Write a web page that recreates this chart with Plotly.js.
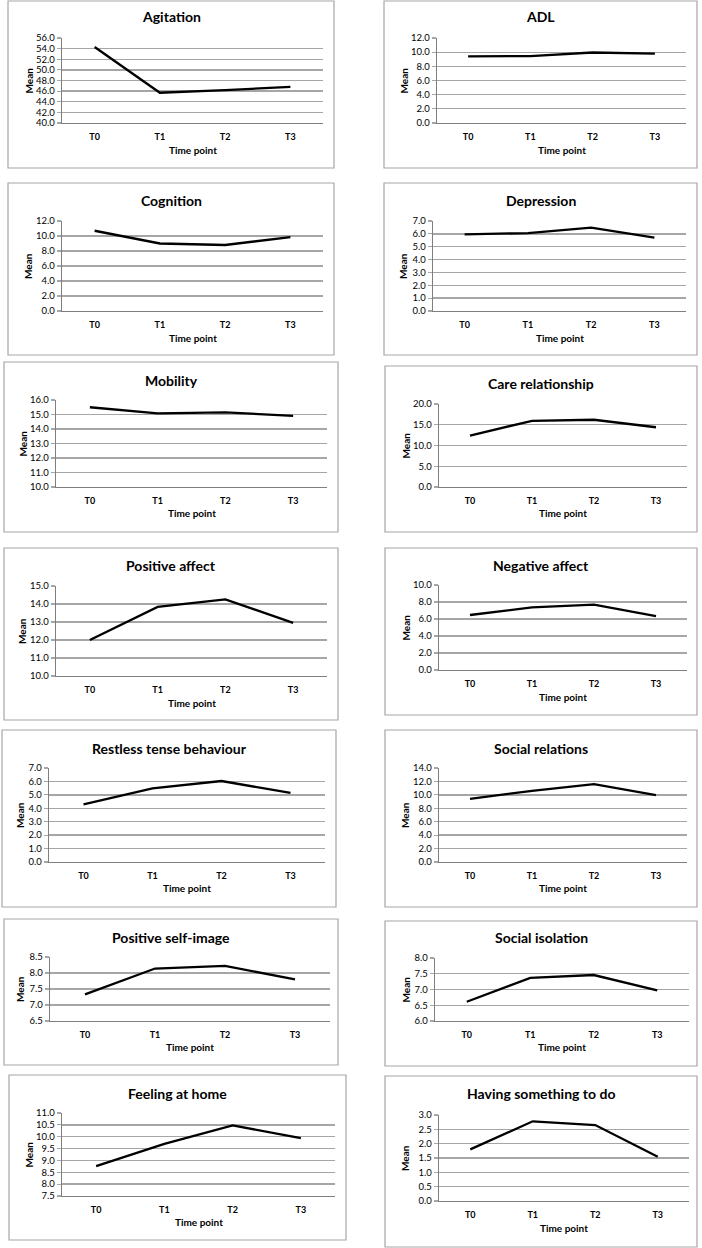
<!DOCTYPE html>
<html>
<head>
<meta charset="utf-8">
<script src="https://cdn.plot.ly/plotly-3.0.1.min.js"></script>
<style>
html,body{margin:0;padding:0;background:#fff;}
#chart{width:702px;height:1248px;}
</style>
</head>
<body>
<div id="chart"></div>
<script>
// ---------- DATA ----------
const timePoints = ['T0', 'T1', 'T2', 'T3'];
const panelTitles = ['Agitation', 'ADL', 'Cognition', 'Depression', 'Mobility', 'Care relationship',
  'Positive affect', 'Negative affect', 'Restless tense behaviour', 'Social relations',
  'Positive self-image', 'Social isolation', 'Feeling at home', 'Having something to do'];
const agitation = [54.3, 45.7, 46.2, 46.8];
const adl = [9.4, 9.45, 9.95, 9.8];
const cognition = [10.7, 9.0, 8.8, 9.85];
const depression = [5.96, 6.06, 6.48, 5.7];
const mobility = [15.5, 15.08, 15.15, 14.9];
const careRelationship = [12.4, 15.95, 16.2, 14.4];
const positiveAffect = [12.0, 13.84, 14.26, 12.95];
const negativeAffect = [6.47, 7.37, 7.69, 6.35];
const restlessTense = [4.3, 5.49, 6.03, 5.14];
const socialRelations = [9.4, 10.6, 11.6, 9.97];
const positiveSelfImage = [7.33, 8.14, 8.22, 7.8];
const socialIsolation = [6.61, 7.37, 7.46, 6.97];
const feelingAtHome = [8.76, 9.7, 10.48, 9.94];
const havingSomethingToDo = [1.8, 2.78, 2.65, 1.54];
const seriesList = [agitation, adl, cognition, depression, mobility, careRelationship,
  positiveAffect, negativeAffect, restlessTense, socialRelations,
  positiveSelfImage, socialIsolation, feelingAtHome, havingSomethingToDo];
// y axis ranges [min, max, step]
const yMin = [40, 0, 0, 0, 10, 0, 10, 0, 0, 0, 6.5, 6.0, 7.5, 0];
const yMax = [56, 12, 12, 7, 16, 20, 15, 10, 7, 14, 8.5, 8.0, 11.0, 3.0];
const yStep = [2, 2, 2, 1, 1, 5, 1, 2, 1, 2, 0.5, 0.5, 0.5, 0.5];
const xAxisTitle = 'Time point';
const yAxisTitle = 'Mean';

// ---------- LAYOUT GEOMETRY (pixels) ----------
const W = 702, H = 1248;
// panel box [x0, y0, x1, y1]
const boxes = [
  [8, 1, 334, 168], [384, 1, 697, 168],
  [8, 183, 334, 355], [384, 183, 697, 355],
  [4, 362, 338, 532], [385, 366, 697, 532],
  [4, 548, 338, 720], [385, 548, 697, 715],
  [2, 730, 336, 907], [385, 730, 697, 907],
  [4, 919, 338, 1065], [385, 921, 697, 1066],
  [9, 1075, 346, 1240], [385, 1076, 697, 1247]
];
// plot area [x0, y0(top), x1, y1(bottom)]
const plots = [
  [62, 38, 323, 123], [437, 38, 686, 123],
  [62, 221, 323, 311], [433, 221, 686, 311],
  [56, 400, 327, 487], [439, 404, 687, 487],
  [56, 586, 327, 676], [439, 585, 687, 670],
  [49, 768, 325, 862], [439, 768, 687, 862],
  [50, 957, 330, 1021], [435, 958, 689, 1021],
  [62, 1113, 335, 1196], [439, 1115, 689, 1201]
];
const titleY = [17, 17, 201, 201, 380, 383, 565, 565, 748, 748, 937, 937, 1093, 1093];
const xTitleY = [150, 150, 338, 338, 513, 513, 703, 697, 888, 888, 1047, 1047, 1222, 1228];
const meanOffset = [34, 34, 34, 30, 34, 34, 34, 34, 29, 34, 30, 30, 34, 34];

const px = v => v / W;
const py = v => 1 - v / H;

const traces = [];
const layout = {
  width: W, height: H,
  margin: {l: 0, r: 0, t: 0, b: 0},
  paper_bgcolor: '#ffffff',
  plot_bgcolor: 'rgba(0,0,0,0)',
  showlegend: false,
  shapes: [],
  annotations: [],
  font: {family: 'Lato, "Open Sans", sans-serif', color: '#000'}
};

const tickFont = {family: 'Lato, sans-serif', size: 9.5, color: '#000'};
const boldFont = (s) => ({family: 'Lato, sans-serif', size: s, color: '#000', weight: 'bold'});

seriesList.forEach((vals, i) => {
  const n = i + 1;
  const xs = n === 1 ? 'x' : 'x' + n;
  const ys = n === 1 ? 'y' : 'y' + n;
  traces.push({
    type: 'scatter', mode: 'lines',
    x: timePoints, y: vals,
    xaxis: xs, yaxis: ys,
    line: {color: '#000000', width: 2.3},
    hoverinfo: 'x+y'
  });
  const p = plots[i];
  layout['xaxis' + (n === 1 ? '' : n)] = {
    domain: [px(p[0]), px(p[2])],
    anchor: ys,
    type: 'category',
    categoryorder: 'array', categoryarray: timePoints,
    range: [-0.5, 3.5],
    showgrid: false, zeroline: false,
    showline: true, linecolor: '#7f7f7f', linewidth: 1.3,
    ticks: '', ticklabelstandoff: 5,
    tickfont: {family: 'Lato, sans-serif', size: 9, color: '#000', weight: 'bold'},
    fixedrange: true
  };
  layout['yaxis' + (n === 1 ? '' : n)] = {
    domain: [py(p[3]), py(p[1])],
    anchor: xs,
    range: [yMin[i], yMax[i]],
    tick0: yMin[i], dtick: yStep[i],
    tickformat: '.1f',
    showgrid: true, gridcolor: '#a6a6a6', gridwidth: 1.3,
    zeroline: false,
    showline: true, linecolor: '#7f7f7f', linewidth: 1.3,
    ticks: 'outside', ticklen: 4, tickcolor: '#a6a6a6', tickwidth: 1.2,
    tickfont: tickFont,
    fixedrange: true
  };
  const b = boxes[i];
  layout.shapes.push({
    type: 'rect', xref: 'paper', yref: 'paper',
    x0: px(b[0]), x1: px(b[2]), y0: py(b[3]), y1: py(b[1]),
    line: {color: '#a6a6a6', width: 1.2}, fillcolor: 'rgba(0,0,0,0)', layer: 'below'
  });
  layout.annotations.push({
    xref: 'paper', yref: 'paper', x: px((b[0] + b[2]) / 2), y: py(titleY[i]),
    text: panelTitles[i], showarrow: false, xanchor: 'center', yanchor: 'middle',
    font: boldFont(14)
  });
  layout.annotations.push({
    xref: 'paper', yref: 'paper', x: px((p[0] + p[2]) / 2), y: py(xTitleY[i]),
    text: xAxisTitle, showarrow: false, xanchor: 'center', yanchor: 'middle',
    font: boldFont(10)
  });
  layout.annotations.push({
    xref: 'paper', yref: 'paper', x: px(p[0] - meanOffset[i]), y: py((p[1] + p[3]) / 2),
    text: yAxisTitle, showarrow: false, xanchor: 'center', yanchor: 'middle', textangle: -90,
    font: boldFont(10)
  });
});

Plotly.newPlot('chart', traces, layout, {displayModeBar: false, staticPlot: true});
</script>
</body>
</html>
